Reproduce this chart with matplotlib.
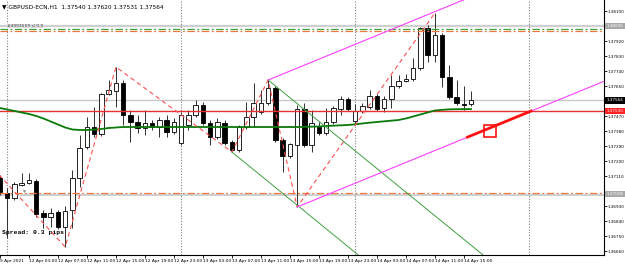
"""GBPUSD H1 candlestick screen (MT4 style) with zigzag, channel lines and order levels."""
import matplotlib
matplotlib.use("Agg")
import matplotlib.pyplot as plt
import numpy as np

# ── data ────────────────────────────────────────────────────────────
# bar index 0 = 12 Apr 2021 00:00, -1 = 9 Apr 23:00 (H1 bars)
bar_idx = list(range(-1, 65))

opens = [1.37098, 1.37008, 1.36978, 1.37056, 1.37068, 1.37080, 1.36888, 1.36864, 1.36894,
         1.36804, 1.36906, 1.37098, 1.37284, 1.37404, 1.37362, 1.37602, 1.37620, 1.37668,
         1.37476, 1.37434, 1.37398, 1.37428, 1.37404, 1.37446, 1.37374, 1.37308, 1.37416,
         1.37476, 1.37536, 1.37428, 1.37344, 1.37428, 1.37314, 1.37266, 1.37404, 1.37464,
         1.37494, 1.37548, 1.37638, 1.37326, 1.37230, 1.37296, 1.37512, 1.37296, 1.37404,
         1.37368, 1.37434, 1.37512, 1.37572, 1.37440, 1.37500, 1.37524, 1.37590, 1.37518,
         1.37572, 1.37650, 1.37680, 1.37692, 1.37758, 1.37998, 1.37836, 1.37956, 1.37704,
         1.37584, 1.37542, 1.37540]
highs = [1.37116, 1.37038, 1.37074, 1.37128, 1.37128, 1.37092, 1.36906, 1.36918, 1.36906,
         1.36930, 1.37146, 1.37356, 1.37464, 1.37524, 1.37608, 1.37686, 1.37764, 1.37686,
         1.37506, 1.37476, 1.37506, 1.37446, 1.37464, 1.37476, 1.37458, 1.37494, 1.37506,
         1.37566, 1.37554, 1.37446, 1.37458, 1.37446, 1.37326, 1.37416, 1.37554, 1.37668,
         1.37626, 1.37686, 1.37650, 1.37338, 1.37308, 1.37536, 1.37548, 1.37506, 1.37434,
         1.37518, 1.37530, 1.37590, 1.37584, 1.37542, 1.37548, 1.37626, 1.37602, 1.37590,
         1.37716, 1.37716, 1.37722, 1.37818, 1.38004, 1.38016, 1.38088, 1.37968, 1.37776,
         1.37686, 1.37650, 1.37620]
lows = [1.36996, 1.36738, 1.36966, 1.37050, 1.37062, 1.36864, 1.36798, 1.36804, 1.36792,
        1.36684, 1.36798, 1.37044, 1.37272, 1.37344, 1.37350, 1.37596, 1.37524, 1.37416,
        1.37314, 1.37368, 1.37356, 1.37386, 1.37344, 1.37344, 1.37362, 1.37296, 1.37386,
        1.37464, 1.37416, 1.37296, 1.37332, 1.37296, 1.37254, 1.37254, 1.37392, 1.37404,
        1.37482, 1.37536, 1.37314, 1.37134, 1.37218, 1.36924, 1.37284, 1.37254, 1.37356,
        1.37356, 1.37422, 1.37476, 1.37500, 1.37422, 1.37488, 1.37512, 1.37500, 1.37494,
        1.37518, 1.37638, 1.37674, 1.37680, 1.37746, 1.37794, 1.37794, 1.37644, 1.37572,
        1.37536, 1.37506, 1.37531]
closes = [1.37014, 1.36978, 1.37062, 1.37068, 1.37086, 1.36882, 1.36864, 1.36888, 1.36804,
          1.36900, 1.37098, 1.37278, 1.37404, 1.37362, 1.37602, 1.37626, 1.37668, 1.37476,
          1.37434, 1.37398, 1.37428, 1.37404, 1.37446, 1.37374, 1.37434, 1.37476, 1.37476,
          1.37536, 1.37428, 1.37344, 1.37434, 1.37308, 1.37266, 1.37404, 1.37464, 1.37548,
          1.37548, 1.37638, 1.37326, 1.37230, 1.37302, 1.37512, 1.37296, 1.37428, 1.37368,
          1.37434, 1.37518, 1.37572, 1.37512, 1.37500, 1.37530, 1.37590, 1.37512, 1.37572,
          1.37650, 1.37680, 1.37692, 1.37758, 1.37998, 1.37836, 1.37956, 1.37704, 1.37584,
          1.37548, 1.37536, 1.37564]
moving_avg = [1.37518, 1.37509, 1.37500, 1.37491, 1.37482, 1.37470, 1.37455, 1.37437, 1.37419,
              1.37401, 1.37389, 1.37386, 1.37386, 1.37389, 1.37392, 1.37398, 1.37401, 1.37404,
              1.37404, 1.37404, 1.37404, 1.37404, 1.37404, 1.37404, 1.37404, 1.37404, 1.37404,
              1.37404, 1.37404, 1.37404, 1.37404, 1.37404, 1.37404, 1.37404, 1.37404, 1.37404,
              1.37404, 1.37404, 1.37404, 1.37404, 1.37404, 1.37404, 1.37405, 1.37406, 1.37407,
              1.37410, 1.37412, 1.37414, 1.37416, 1.37420, 1.37425, 1.37430, 1.37434, 1.37438,
              1.37442, 1.37446, 1.37455, 1.37467, 1.37479, 1.37491, 1.37503, 1.37507, 1.37510,
              1.37511, 1.37511, 1.37512]

# zigzag swing points (bar, price)
zigzag_bars = [-3, 8, 15, 31, 36, 40, 59]
zigzag_prices = [1.37206, 1.36684, 1.37764, 1.37254, 1.37686, 1.36924, 1.38088]

# trend lines: (bar0, price0, bar1, price1)
green_lines = [(36, 1.37686, 66, 1.36624), (31, 1.37254, 48.5, 1.36634)]
magenta_lines = [(36, 1.37686, 64, 1.38185), (40, 1.36924, 83, 1.37690)]
red_segment = (63.5, 1.37343, 72.3, 1.37500)
red_square = (66.6, 1.37383)

# horizontal levels
level_gray_top = 1.38010
level_green_order = 1.37992
level_orange_top = 1.37980
level_bid = 1.37564
level_red = 1.37500
level_orange_bottom = 1.37008
level_gray_bottom = 1.36996

separator_bars = [0, 24, 48, 72]

time_tick_bars = [-1, 3, 7, 11, 15, 19, 23, 27, 31, 35, 39, 43, 47, 51, 55, 59, 63]
time_tick_labels = ["9 Apr 2021", "12 Apr 03:00", "12 Apr 07:00", "12 Apr 11:00",
                    "12 Apr 15:00", "12 Apr 19:00", "12 Apr 23:00", "13 Apr 03:00",
                    "13 Apr 07:00", "13 Apr 11:00", "13 Apr 15:00", "13 Apr 19:00",
                    "13 Apr 23:00", "14 Apr 03:00", "14 Apr 07:00", "14 Apr 11:00",
                    "14 Apr 15:00"]
# grid prices whose labels are not hidden by a highlighted price box
price_ticks = [1.38100, 1.37920, 1.37830, 1.37740, 1.37650, 1.37470,
               1.37380, 1.37290, 1.37200, 1.37110, 1.36930, 1.36840, 1.36750,
               1.36660]
price_boxes = [(1.38010, "1.38035", "#a8a8a8"), (1.37564, "1.37564", "#000000"),
               (1.37500, "1.37530", "#ff2020"), (1.37002, "1.37008", "#a8a8a8")]


def draw_candles(ax):
    x = np.array(bar_idx, dtype=float)
    o, h, l, c = map(np.array, (opens, highs, lows, closes))
    ax.vlines(x, l, h, color="#303030", linewidth=0.7, zorder=2)
    bull = c >= o
    bottom = np.minimum(o, c)
    height = np.maximum(np.abs(c - o), 0.000012)
    ax.bar(x[bull], height[bull], bottom=bottom[bull], width=0.62,
           facecolor="white", edgecolor="black", linewidth=0.6, zorder=2.5)
    ax.bar(x[~bull], height[~bull], bottom=bottom[~bull], width=0.62,
           facecolor="black", edgecolor="black", linewidth=0.6, zorder=2.5)


def main():
    fig = plt.figure(figsize=(6.25, 2.64), dpi=100)
    ax = fig.add_axes([0, 9 / 264, 604 / 625, 255 / 264])
    ax.set_xlim(-0.9655, 82.345)
    ax.set_ylim(1.36636, 1.38166)

    # ── horizontal levels ──────────────────────────────────────
    ax.axhline(level_gray_top, color="#cfcfcf", linewidth=1.6, zorder=1)
    ax.axhline(level_gray_bottom, color="#c8c8c8", linewidth=1.2, zorder=1)
    ax.axhline(level_bid, color="#c8c8c8", linewidth=1.0, zorder=1)
    ax.axhline(level_green_order, color="#3fa63f", linewidth=0.9,
               linestyle=(0, (6, 2, 1.5, 2)), zorder=3)
    ax.axhline(level_orange_top, color="#f07840", linewidth=0.9,
               linestyle=(0, (6, 2, 1.5, 2)), zorder=3)
    ax.axhline(level_orange_bottom, color="#f07840", linewidth=0.9,
               linestyle=(0, (6, 2, 1.5, 2)), zorder=3)
    ax.axhline(level_red, color="#e83030", linewidth=1.0, zorder=3)

    # day separators
    for b in separator_bars:
        ax.axvline(b, color="#808080", linewidth=0.8, linestyle=(0, (1, 1.5)), zorder=1)

    draw_candles(ax)

    # moving average
    ax.plot(bar_idx, moving_avg, color="#0a7a0a", linewidth=1.3, zorder=4)

    # zigzag
    ax.plot(zigzag_bars, zigzag_prices, color="#ff5050", linewidth=0.8,
            linestyle=(0, (4, 3)), zorder=4)

    for b0, p0, b1, p1 in green_lines:
        ax.plot([b0, b1], [p0, p1], color="#40a040", linewidth=0.7, zorder=4)
    for b0, p0, b1, p1 in magenta_lines:
        ax.plot([b0, b1], [p0, p1], color="#ff40ff", linewidth=0.8, zorder=4)
    ax.plot([red_segment[0], red_segment[2]], [red_segment[1], red_segment[3]],
            color="#ff1010", linewidth=2.0, zorder=5)
    ax.plot([red_square[0]], [red_square[1]], marker="s", markersize=8.5,
            markerfacecolor="none", markeredgecolor="#ff1010", markeredgewidth=1.2,
            zorder=6)

    # ── axes styling ──────────────────────────────────────────
    for side in ("top", "left"):
        ax.spines[side].set_visible(False)
    for side in ("right", "bottom"):
        ax.spines[side].set_linewidth(0.8)
        ax.spines[side].set_color("black")
    ax.yaxis.tick_right()
    ax.set_yticks(price_ticks)
    ax.set_yticklabels([f"{p:.5f}" for p in price_ticks])
    ax.tick_params(axis="y", length=2, width=0.6, pad=0.6, labelsize=3.0)
    ax.set_xticks(time_tick_bars)
    ax.set_xticklabels(time_tick_labels, ha="left")
    ax.tick_params(axis="x", length=2, width=0.6, pad=1.2, labelsize=3.2)

    ytr = ax.get_yaxis_transform()
    for price, label, color in price_boxes:
        ax.text(1.0045, price, label, transform=ytr, ha="left", va="center",
                fontsize=3.0, color="white", clip_on=False, zorder=10,
                bbox=dict(boxstyle="square,pad=0.3", fc=color, ec="none"))

    # ── texts ─────────────────────────────────────────────────
    ax.text(0.004, 0.985, "\u25bc GBPUSD-ECN,H1  1.37540 1.37620 1.37531 1.37564",
            transform=ax.transAxes, fontsize=4.2, va="top", ha="left", color="black")
    ax.text(0.003, level_gray_top, "#4993559 sl 0.0", fontsize=3.2, va="center",
            ha="left", color="#404040", zorder=6,
            bbox=dict(boxstyle="square,pad=0.1", fc="#e0e0e0", ec="none"))
    ax.text(2.2, level_orange_bottom + 0.0001, "tp", fontsize=3.0, va="center",
            ha="left", color="#707070", zorder=6)
    ax.text(0.003, 0.09, "Spread: 0.3 pips", transform=ax.transAxes,
            fontsize=4.6, fontweight="bold", family="Liberation Mono",
            va="center", ha="left", color="black")

    fig.savefig("out.png", dpi=100)


if __name__ == "__main__":
    main()
